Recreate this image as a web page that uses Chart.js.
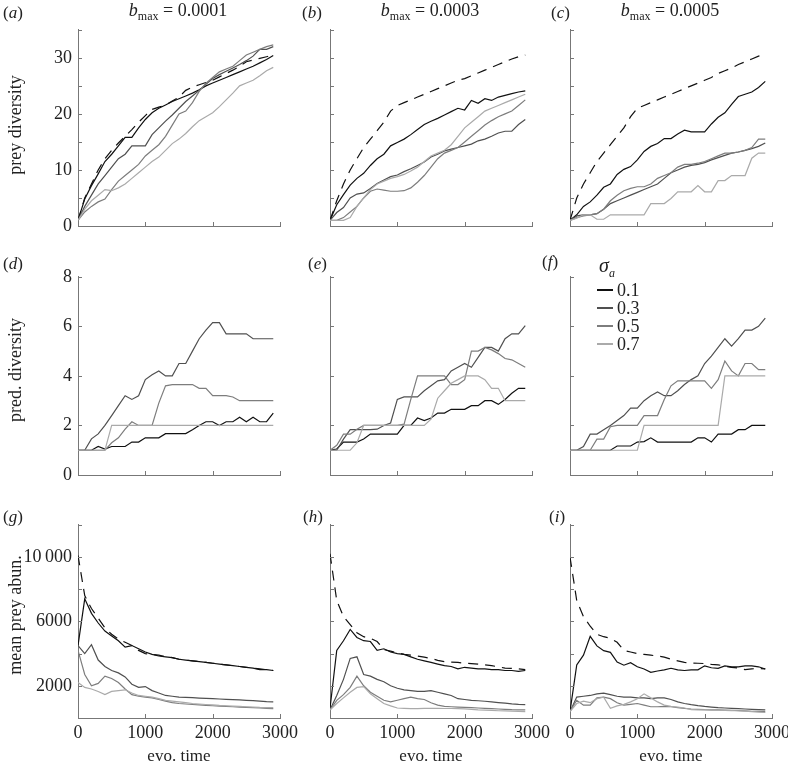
<!DOCTYPE html>
<html>
<head>
<meta charset="utf-8">
<script src="https://cdn.jsdelivr.net/npm/chart.js@4.4.0/dist/chart.umd.min.js"></script>
<style>
  body { margin: 0; background: #fff; width: 788px; height: 765px; position: relative; overflow: hidden;
         font-family: "Liberation Serif", "Times New Roman", Times, serif; color: #222; }
  canvas { position: absolute; }
  .t { position: absolute; white-space: nowrap; font-size: 17px; line-height: 1; }
  .hd { transform: translateX(-50%); font-size: 18px; }
  .hd sub { font-size: 12px; vertical-align: -4px; }
  .ytitle { transform: translate(-50%, -50%) rotate(-90deg); font-size: 18px; }
  .xtitle { transform: translateX(-50%); }
  .leg { position: absolute; font-size: 18px; line-height: 1; }
  .leg span.sw { display: inline-block; width: 16px; height: 0; border-top: 2px solid; vertical-align: 5px; margin-right: 4px; }
</style>
</head>
<body>
<script>
// evo. time samples
const evoTime = [0, 100, 200, 300, 400, 500, 600, 700, 800, 900, 1000, 1100, 1200, 1300, 1400,
  1500, 1600, 1700, 1800, 1900, 2000, 2100, 2200, 2300, 2400, 2500, 2600, 2700, 2800, 2900];
const sigmaLevels = ['0.1', '0.3', '0.5', '0.7'];
const bMaxValues = ['0.0001', '0.0003', '0.0005'];
const timeTicks = [0, 1000, 2000, 3000];

// prey diversity, b_max = 0.0001
const aDash = [1, 5, 7.5, 10, 12, 13.5, 14.8, 16, 17.2, 18.5, 19.7, 20.8, 21.2, 21.6, 22.3, 23, 24.2, 24.8, 25.2, 25.6, 26, 26.6, 27.2, 27.8, 28.5, 29.3, 29.6, 29.9, 30.2, 30.5];
const a01 = [1, 4.8, 7.2, 9.3, 11.5, 12.8, 14.3, 15.8, 15.8, 17.5, 19, 20.2, 21, 21.6, 22.2, 22.7, 23.2, 23.7, 24.3, 25, 25.5, 26, 26.5, 27, 27.5, 28, 28.5, 29.1, 29.7, 30.4];
const a03 = [1, 3.5, 5.5, 7.5, 9, 10.5, 12, 12.8, 14.3, 14.3, 14.3, 16.3, 17.5, 18.7, 19.8, 21, 22.2, 23.2, 24.2, 25.3, 26.3, 27, 27.6, 28.2, 28.8, 29.5, 30.3, 31.5, 31.5, 32];
const a05 = [1, 2.5, 3.5, 4.3, 4.8, 6.5, 8, 9, 10, 11, 12.5, 13.5, 14.5, 16, 18, 20, 20.5, 22, 24, 25.5, 26.5, 27.5, 28, 28.5, 29.5, 30.5, 31, 31.5, 32, 32.3];
const a07 = [1, 3, 4.5, 5.5, 6.5, 6.3, 6.8, 7.5, 8.5, 9.5, 10.5, 11.5, 12.3, 13.5, 14.7, 15.5, 16.5, 17.7, 18.8, 19.5, 20.2, 21.3, 22.5, 23.7, 25, 25.5, 26, 26.8, 27.7, 28.3];

// prey diversity, b_max = 0.0003
const bDash = [1, 4.5, 7.5, 10, 12, 14, 15.5, 17, 18.5, 20.5, 21.5, 22, 22.5, 23, 23.5, 24, 24.5, 25, 25.5, 26, 26.3, 26.8, 27.3, 27.8, 28.3, 28.8, 29.3, 29.8, 30.2, 30.5];
const b01 = [1, 3.8, 5.6, 7.3, 8.5, 9.4, 10.8, 12, 12.8, 14.3, 14.9, 15.5, 16.3, 17.2, 18.1, 18.7, 19.2, 19.8, 20.4, 21, 20.7, 22.4, 21.9, 22.7, 22.4, 23, 23.3, 23.6, 23.9, 24.1];
const b03 = [1, 2.4, 3.3, 5, 5.7, 5.9, 6.7, 7.6, 8.2, 8.8, 9.1, 9.7, 10.2, 10.8, 11.4, 12.3, 12.8, 13.4, 13.7, 14, 14.3, 14.6, 15.2, 15.5, 16, 16.6, 16.9, 16.9, 18.1, 19];
const b05 = [1, 1, 1.5, 2.5, 3.5, 5, 6.2, 6.6, 6.4, 6.2, 6.2, 6.3, 6.8, 7.8, 9, 10.5, 12, 13, 13.5, 14, 15, 16, 17, 18, 18.8, 19.5, 20, 20.5, 21.5, 22.5];
const b07 = [1, 1, 1, 1.5, 3.5, 5, 6.5, 7.5, 8, 8.5, 8.8, 9.2, 9.8, 10.5, 11.5, 12.5, 13, 13.5, 14.5, 16, 17.5, 18.5, 19.5, 20.5, 21, 21.5, 22, 22.5, 23, 23.5];

// prey diversity, b_max = 0.0005
const cDash = [1, 5, 7.5, 9.5, 11.5, 13, 14.5, 16, 17.5, 19.5, 21, 21.5, 22, 22.5, 23, 23.5, 24, 24.5, 25, 25.5, 26, 26.5, 27.2, 27.7, 28.2, 28.8, 29.3, 29.8, 30.3, 30.6];
const c01 = [1, 2, 3.5, 4.3, 5.5, 6.9, 7.5, 9.2, 10.1, 10.6, 11.8, 13.3, 14.2, 14.7, 15.6, 15.6, 16.4, 17.1, 16.8, 16.8, 16.8, 18.2, 19.4, 20.2, 21.7, 23.1, 23.5, 23.9, 24.7, 25.8];
const c03 = [1, 1.8, 2, 2, 2.2, 3, 4, 4.5, 5, 5.5, 6, 6.5, 7, 7.5, 8.5, 9.5, 10, 10.5, 10.8, 11, 11.3, 11.8, 12.2, 12.6, 13, 13.2, 13.5, 13.8, 14.2, 14.8];
const c05 = [1, 1.5, 1.8, 2, 2.2, 3, 4.5, 5.5, 6.3, 6.7, 7, 7, 7.5, 8.5, 9, 9.5, 10.5, 11, 11, 11.2, 11.5, 12, 12.5, 13, 13, 13.2, 13.5, 14, 15.5, 15.5];
const c07 = [1, 1.4, 2, 2, 1.2, 1.2, 2, 2, 2, 2, 2, 2, 4, 4, 4, 4.9, 6.1, 6.1, 6.1, 7.2, 6.1, 6.1, 8.1, 8.1, 9, 9, 9, 12.1, 13, 13];

// pred. diversity
const d01 = [1, 1, 1, 1.15, 1.05, 1.15, 1.15, 1.15, 1.33, 1.33, 1.5, 1.5, 1.5, 1.67, 1.67, 1.67, 1.67, 1.83, 2, 2.15, 2.15, 2, 2.15, 2.15, 2.33, 2.15, 2.33, 2.15, 2.15, 2.5];
const d03 = [1, 1, 1.46, 1.66, 2, 2.4, 2.8, 3.2, 3.05, 3.2, 3.85, 4.05, 4.2, 4, 4, 4.5, 4.5, 5, 5.5, 5.85, 6.15, 6.15, 5.7, 5.7, 5.7, 5.7, 5.5, 5.5, 5.5, 5.5];
const d05 = [1, 1, 1, 1, 1, 1.3, 1.5, 1.85, 2.15, 2, 2, 2, 2.9, 3.6, 3.65, 3.65, 3.65, 3.65, 3.5, 3.5, 3.2, 3.2, 3.2, 3.15, 3, 3, 3, 3, 3, 3];
const d07 = [1, 1, 1, 1, 1, 2, 2, 2, 2, 2, 2, 2, 2, 2, 2, 2, 2, 2, 2, 2, 2, 2, 2, 2, 2, 2, 2, 2, 2, 2];

const e01 = [1, 1.05, 1.33, 1.33, 1.33, 1.45, 1.65, 1.65, 1.65, 1.65, 1.65, 2, 2, 2.3, 2.2, 2.3, 2.5, 2.5, 2.65, 2.65, 2.65, 2.8, 2.8, 3, 3, 2.85, 3.05, 3.3, 3.5, 3.5];
const e03 = [1, 1, 1.45, 1.83, 1.83, 1.83, 1.83, 1.85, 2, 2.1, 3.05, 3.15, 3.15, 3.15, 3.4, 3.6, 3.8, 3.85, 4.2, 4.35, 4.5, 4.35, 4.75, 5.15, 5.15, 5, 5.5, 5.7, 5.7, 6.03];
const e05 = [1, 1.2, 1.65, 1.65, 1.85, 2, 2, 2, 2, 2, 2, 2.05, 3.05, 4, 4, 4, 4, 4, 3.65, 3.65, 3.85, 5, 5, 5.15, 5.05, 4.9, 4.7, 4.65, 4.5, 4.35];
const e07 = [1, 1, 1, 1, 1.3, 2, 2, 2, 2, 2, 2, 2, 2, 2, 2, 2.25, 3.1, 3.4, 3.7, 3.85, 4, 4, 4, 3.85, 3.5, 3.5, 3, 3, 3, 3];

const f01 = [1, 1, 1, 1, 1, 1, 1, 1.17, 1.17, 1.17, 1.33, 1.35, 1.5, 1.33, 1.33, 1.33, 1.33, 1.33, 1.33, 1.5, 1.5, 1.33, 1.65, 1.65, 1.65, 1.83, 1.83, 2, 2, 2];
const f03 = [1, 1, 1.15, 1.65, 1.65, 1.83, 2, 2.2, 2.4, 2.7, 2.7, 3, 3.2, 3.35, 3.2, 3.2, 3.4, 3.65, 3.85, 4, 4.5, 4.8, 5.15, 5.5, 5.2, 5.5, 5.85, 5.85, 6, 6.33];
const f05 = [1, 1, 1, 1, 1.45, 1.45, 1.95, 2, 2, 2, 2, 2.4, 2.4, 2.4, 3.05, 3.6, 3.8, 3.8, 3.8, 3.8, 3.8, 3.5, 3.85, 4.6, 4.2, 4, 4.5, 4.5, 4.25, 4.25];
const f07 = [1, 1, 1, 1, 1, 1, 1, 1, 1, 1, 1, 2, 2, 2, 2, 2, 2, 2, 2, 2, 2, 2, 2, 4, 4, 4, 4, 4, 4, 4];

// mean prey abundance
const gDash = [10100, 7600, 6800, 6200, 5600, 5200, 4900, 4700, 4500, 4200, 4000, 3950, 3900, 3800, 3750, 3650, 3600, 3550, 3500, 3450, 3400, 3350, 3300, 3250, 3200, 3150, 3100, 3050, 3000, 2950];
const g01 = [4500, 7400, 6500, 5900, 5400, 5100, 4800, 4400, 4500, 4300, 4100, 3950, 3850, 3800, 3750, 3650, 3600, 3550, 3500, 3450, 3400, 3350, 3300, 3250, 3200, 3150, 3100, 3000, 3000, 2950];
const g03 = [4500, 4000, 4550, 3600, 3200, 2950, 2800, 2550, 2100, 1900, 1950, 1700, 1550, 1400, 1350, 1300, 1280, 1260, 1240, 1220, 1200, 1180, 1160, 1140, 1120, 1100, 1080, 1050, 1020, 1000];
const g05 = [4200, 2700, 2000, 2150, 2600, 2450, 2200, 1800, 1450, 1350, 1300, 1250, 1150, 1050, 950, 900, 870, 840, 810, 780, 760, 740, 720, 700, 680, 660, 640, 620, 600, 580];
const g07 = [2200, 1900, 1800, 1650, 1450, 1650, 1700, 1750, 1550, 1400, 1350, 1300, 1200, 1100, 1050, 1000, 950, 900, 870, 840, 810, 780, 760, 740, 720, 700, 680, 660, 650, 640];

const hDash = [10200, 7300, 6300, 5800, 5300, 5050, 4950, 4750, 4250, 4150, 4050, 3950, 3900, 3850, 3780, 3700, 3580, 3500, 3470, 3450, 3400, 3380, 3350, 3300, 3250, 3180, 3100, 3080, 3050, 3000];
const h01 = [600, 4200, 4800, 5500, 5000, 4800, 4750, 4200, 4300, 4100, 4000, 3950, 3800, 3650, 3550, 3450, 3350, 3250, 3200, 3050, 3150, 3100, 3050, 3050, 3000, 3000, 2950, 2950, 2900, 2950];
const h03 = [500, 1400, 2400, 3700, 3800, 2700, 2600, 2400, 2250, 2000, 1850, 1750, 1700, 1650, 1650, 1700, 1600, 1500, 1400, 1200, 1150, 1100, 1070, 1040, 1000, 960, 920, 880, 850, 830];
const h05 = [500, 1100, 1450, 1900, 2600, 2000, 1600, 1350, 1100, 1000, 1100, 1200, 1300, 1200, 1150, 950, 800, 720, 700, 680, 660, 640, 620, 600, 580, 560, 540, 520, 510, 500];
const h07 = [500, 900, 1250, 1600, 1900, 1950, 1500, 1200, 900, 750, 620, 600, 580, 580, 600, 600, 600, 590, 590, 580, 570, 540, 510, 490, 470, 450, 440, 430, 410, 400];

const iDash = [10000, 7300, 6300, 5700, 5200, 5050, 4950, 4700, 4200, 4100, 4000, 3950, 3900, 3850, 3780, 3650, 3550, 3450, 3420, 3400, 3380, 3330, 3300, 3220, 3150, 3100, 3000, 3050, 3080, 3050];
const i01 = [400, 3300, 3900, 5070, 4480, 4180, 4080, 3480, 3280, 3440, 3180, 3040, 2840, 2920, 2990, 3090, 2990, 2950, 2990, 2990, 3240, 3120, 3080, 3240, 3180, 3180, 3240, 3240, 3180, 3040];
const i03 = [400, 1300, 1350, 1400, 1500, 1550, 1450, 1350, 1300, 1300, 1250, 1250, 1200, 1250, 1250, 1150, 1000, 900, 830, 770, 720, 680, 640, 620, 600, 580, 560, 540, 520, 500];
const i05 = [400, 1100, 800, 800, 1250, 1300, 1200, 950, 800, 850, 900, 800, 700, 700, 720, 700, 650, 600, 560, 540, 520, 510, 500, 490, 480, 460, 440, 420, 410, 400];
const i07 = [400, 900, 1050, 950, 1200, 1300, 600, 750, 850, 1000, 1200, 1500, 1250, 1000, 800, 720, 680, 620, 520, 500, 500, 490, 480, 470, 460, 450, 430, 400, 370, 340];

// styling
const sigmaColors = ['#111111', '#505050', '#7d7d7d', '#aaaaaa'];
const AXIS = '#777';
const FONT = { family: "'Liberation Serif', 'Times New Roman', Times, serif", size: 18 };
const colLeft = [78, 330, 570];
const PLOT_W = 202;
const rowTop = [25, 272, 520];
const rowBottom = [226, 475, 718];
const Y_W = 60, PAD_T = 12, PAD_R = 22, X_H = 34;

const rows = [
  { max: 35, step: 5, label: v => (v % 10 === 0 ? String(v) : '') },
  { max: 8, step: 2, label: v => String(v) },
  { max: 12000, step: 2000, label: v => ([2000, 6000].includes(v) ? String(v) : v === 10000 ? '10\u2009000' : '') }
];

const panels = [
  { id: 'a', row: 0, col: 0, dash: aDash, lines: [a01, a03, a05, a07] },
  { id: 'b', row: 0, col: 1, dash: bDash, lines: [b01, b03, b05, b07] },
  { id: 'c', row: 0, col: 2, dash: cDash, lines: [c01, c03, c05, c07] },
  { id: 'd', row: 1, col: 0, dash: null, lines: [d01, d03, d05, d07] },
  { id: 'e', row: 1, col: 1, dash: null, lines: [e01, e03, e05, e07] },
  { id: 'f', row: 1, col: 2, dash: null, lines: [f01, f03, f05, f07] },
  { id: 'g', row: 2, col: 0, dash: gDash, lines: [g01, g03, g05, g07] },
  { id: 'h', row: 2, col: 1, dash: hDash, lines: [h01, h03, h05, h07] },
  { id: 'i', row: 2, col: 2, dash: iDash, lines: [i01, i03, i05, i07] }
];

// small tick marks pointing into the plot
const inwardTicks = {
  id: 'inwardTicks',
  afterDraw(chart) {
    const { ctx, chartArea: a, scales: { x, y } } = chart;
    ctx.save();
    ctx.strokeStyle = AXIS;
    ctx.lineWidth = 1;
    ctx.beginPath();
    y.ticks.forEach(t => {
      const py = Math.round(y.getPixelForValue(t.value)) + 0.5;
      ctx.moveTo(a.left, py); ctx.lineTo(a.left + 4, py);
    });
    x.ticks.forEach(t => {
      const px = Math.round(x.getPixelForValue(t.value)) + 0.5;
      ctx.moveTo(px, a.bottom); ctx.lineTo(px, a.bottom - 4);
    });
    ctx.stroke();
    ctx.restore();
  }
};

const toXY = arr => arr.map((v, i) => ({ x: evoTime[i], y: v }));

function addText(html, cls, left, top) {
  const el = document.createElement('div');
  el.className = 't ' + cls;
  el.style.left = left + 'px';
  el.style.top = top + 'px';
  el.innerHTML = html;
  document.body.appendChild(el);
  return el;
}

panels.forEach(p => {
  const r = rows[p.row];
  const plotH = rowBottom[p.row] - rowTop[p.row];
  const cv = document.createElement('canvas');
  const W = Y_W + PLOT_W + PAD_R, H = PAD_T + plotH + X_H;
  cv.width = W; cv.height = H;
  cv.style.left = (colLeft[p.col] - Y_W) + 'px';
  cv.style.top = (rowTop[p.row] - PAD_T) + 'px';
  cv.style.width = W + 'px'; cv.style.height = H + 'px';
  document.body.appendChild(cv);

  const datasets = [];
  // lighter lines first so the dark ones sit on top
  for (let k = p.lines.length - 1; k >= 0; k--) {
    datasets.push({ label: sigmaLevels[k], data: toXY(p.lines[k]), borderColor: sigmaColors[k], borderWidth: 1.2 });
  }
  if (p.dash) {
    datasets.push({ label: 'reference', data: toXY(p.dash), borderColor: '#111', borderWidth: 1.2, borderDash: [10, 7] });
  }

  new Chart(cv, {
    type: 'line',
    data: { datasets },
    options: {
      responsive: false,
      animation: false,
      layout: { padding: { top: PAD_T, right: PAD_R, bottom: 0, left: 0 } },
      plugins: { legend: { display: false }, tooltip: { enabled: false } },
      elements: { point: { radius: 0 }, line: { tension: 0 } },
      scales: {
        x: {
          type: 'linear', min: 0, max: 3000,
          afterBuildTicks: s => { s.ticks = timeTicks.map(v => ({ value: v })); },
          ticks: { callback: v => (p.row === 2 ? String(v) : ''), font: FONT, color: '#222', padding: 4, maxRotation: 0, autoSkip: false },
          grid: { display: false, drawTicks: false },
          border: { color: AXIS, width: 1 },
          afterFit: s => { s.height = X_H; }
        },
        y: {
          min: 0, max: r.max,
          ticks: { stepSize: r.step, callback: v => (p.col === 0 ? r.label(v) : ''), font: FONT, color: '#222', padding: 6, autoSkip: false },
          grid: { display: false, drawTicks: false },
          border: { color: AXIS, width: 1 },
          afterFit: s => { s.width = Y_W; }
        }
      }
    },
    plugins: [inwardTicks]
  });
});

// column headings
const headX = [178, 430, 670];
bMaxValues.forEach((v, c) => addText('<i>b</i><sub>max</sub> = ' + v, 'hd', headX[c], 1));

// panel letters
const letterPos = { a: [3, 4], b: [302, 4], c: [551, 4], d: [3, 255], e: [308, 255], f: [542, 253], g: [3, 508], h: [303, 508], i: [549, 508] };
Object.entries(letterPos).forEach(([k, [x, y]]) => addText('(<i>' + k + '</i>)', '', x, y));

// axis titles
addText('prey diversity', 'ytitle', 15, 125);
addText('pred. diversity', 'ytitle', 15, 370);
addText('mean prey abun.', 'ytitle', 15, 615);
[179, 431, 671].forEach(x => addText('evo. time', 'xtitle', x, 747));

// sigma legend in panel (f)
const leg = document.createElement('div');
leg.className = 'leg';
leg.style.left = '597px';
leg.style.top = '255px';
let html = '<div style="margin-left:2px;margin-bottom:2px;font-size:20px"><i>σ<sub style="font-size:12px">a</sub></i></div>';
sigmaLevels.forEach((s, k) => {
  html += '<div style="height:18px"><span class="sw" style="border-color:' + sigmaColors[k] + '"></span>' + s + '</div>';
});
leg.innerHTML = html;
document.body.appendChild(leg);
</script>
</body>
</html>
